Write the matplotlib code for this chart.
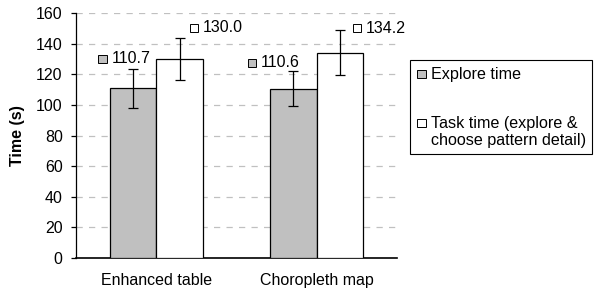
import matplotlib
matplotlib.use("Agg")
import matplotlib.pyplot as plt
import numpy as np
from matplotlib.patches import Rectangle
from matplotlib.offsetbox import AnnotationBbox, HPacker, DrawingArea, TextArea

plt.rcParams['font.family'] = ['Liberation Sans', 'DejaVu Sans']

categories = ["Enhanced table", "Choropleth map"]
series_names = ["Explore time", "Task time (explore &\nchoose pattern detail)"]
explore = [110.7, 110.6]
task = [130.0, 134.2]
explore_err = [12.7, 11.3]
task_err = [13.6, 14.5]
yticks = [0, 20, 40, 60, 80, 100, 120, 140, 160]

colors = ["#c0c0c0", "#ffffff"]
# label offsets in pixels (dx, dy) relative to bar top center: [category][series]
label_offsets = [[(-8.5, 29.5), (37, 31)], [(-19.5, 25.7), (39.5, 24.5)]]

W, H = 598, 292
fig = plt.figure(figsize=(W/100, H/100), dpi=100)
ax = fig.add_axes([76/W, 1-258/H, (397-76)/W, (258-13)/H])

x = np.arange(len(categories))
w = 0.29
series = [explore, task]
errs = [explore_err, task_err]
for i, (vals, err) in enumerate(zip(series, errs)):
    xs = x + (i - 0.5) * w
    ax.bar(xs, vals, w, color=colors[i], edgecolor="black", linewidth=0.9, zorder=3)
    ax.errorbar(xs, vals, yerr=err, fmt="none", ecolor="black", elinewidth=0.9,
                capsize=3.3, capthick=0.9, zorder=4)
    for j, v in enumerate(vals):
        da = DrawingArea(6, 6, 0, 0)
        da.add_artist(Rectangle((0, 0), 6, 6, facecolor=colors[i], edgecolor="black", linewidth=0.7))
        ta = TextArea(f"{v:.1f}", textprops=dict(fontsize=11.5))
        pack = HPacker(children=[da, ta], align="center", pad=0, sep=3.5)
        ab = AnnotationBbox(pack, (xs[j], v), xybox=label_offsets[j][i],
                            xycoords="data", boxcoords="offset pixels",
                            frameon=False, box_alignment=(0.5, 0.5), zorder=5)
        ax.add_artist(ab)

ax.set_xlim(-0.5, 1.5)
ax.set_ylim(0, 160)
ax.set_yticks(yticks)
ax.set_xticks(x)
ax.set_xticklabels(categories, fontsize=11.5)
ax.tick_params(axis="y", labelsize=11.5, direction="out", length=3.6, width=0.9, pad=6)
ax.tick_params(axis="x", length=0, pad=11)
for s in ["top", "right"]:
    ax.spines[s].set_visible(False)
ax.spines["left"].set_linewidth(0.9)
ax.spines["bottom"].set_linewidth(1.2)
ax.yaxis.grid(True, linestyle=(0, (5, 5)), color="#c0c0c0", linewidth=0.9, zorder=0)
ax.set_axisbelow(True)
ax.set_ylabel("Time (s)", fontsize=11.5, fontweight="bold", labelpad=8)

# legend drawn manually (pixel layout)
def fx(px):
    return px / W

def fy(py):
    return 1 - py / H

fig.patches.append(Rectangle((fx(410), fy(154)), fx(592) - fx(410), (154 - 60) / H,
                             transform=fig.transFigure, facecolor="white",
                             edgecolor="black", linewidth=0.8, zorder=1))
entry_y = [74, 123]
for i, name in enumerate(series_names):
    yc = entry_y[i]
    fig.patches.append(Rectangle((fx(417), fy(yc + 4)), 9 / W, 8 / H,
                                 transform=fig.transFigure, facecolor=colors[i],
                                 edgecolor="black", linewidth=0.7, zorder=2))
    fig.text(fx(431), fy(yc - 7), name, fontsize=11.6, va="top", ha="left",
             linespacing=1.15, zorder=3)

fig.savefig("out.png", dpi=100)
